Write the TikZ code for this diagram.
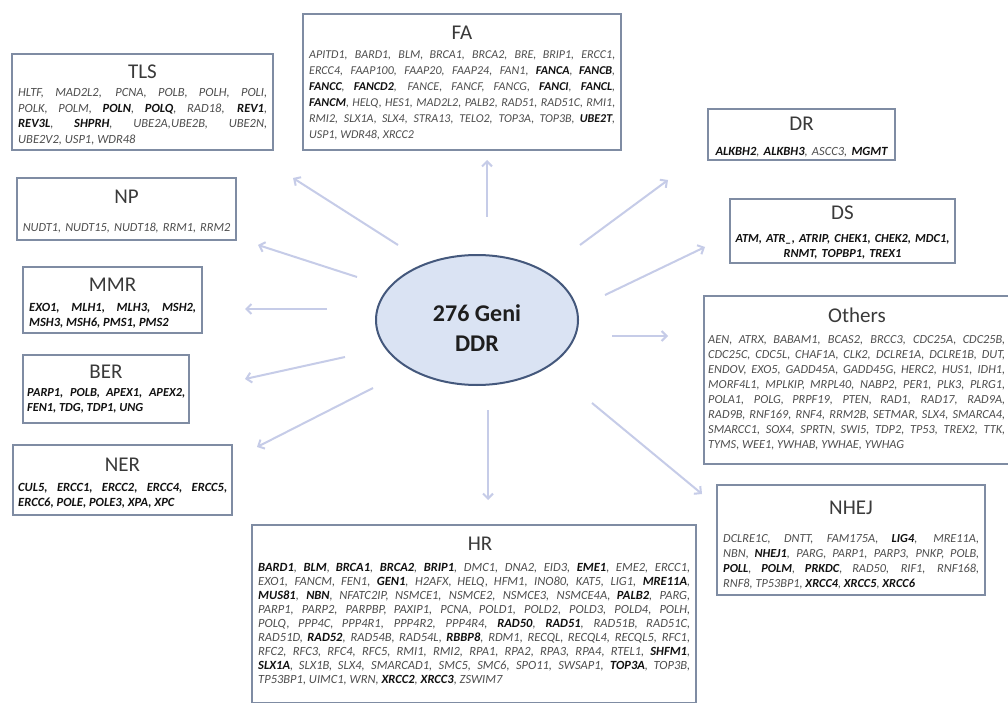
\documentclass[tikz,border=0pt]{standalone}
\usepackage{fontspec}
\setmainfont{Carlito}
\usetikzlibrary{arrows.meta,shapes.geometric}
\definecolor{boxc}{HTML}{7F8CA3}
\definecolor{ttlc}{HTML}{3A3A3A}
\definecolor{genec}{HTML}{4E4E4E}
\definecolor{geneb}{HTML}{111111}
\definecolor{ellf}{HTML}{DAE3F3}
\definecolor{ellc}{HTML}{44587C}
\definecolor{arrc}{HTML}{C6CCE8}
\definecolor{ddrc}{HTML}{1E1E1E}
\newcommand\gbold[1]{{\bfseries\color{geneb}#1}}
\newcommand\genef[2]{\fontsize{#1}{#2}\selectfont\itshape\hyphenpenalty10000 \exhyphenpenalty10000 \tolerance10000 \hbadness10000 }
\begin{document}
\begin{tikzpicture}[x=1pt,y=-1pt,
  box/.style={draw=boxc, line width=1.8pt, fill=white, inner sep=0pt, outer sep=0pt, anchor=north west},
  ttl/.style={inner sep=0pt, font=\fontsize{21}{21}\selectfont, text=ttlc},
  genes/.style={inner sep=0pt, text width=#1pt, align=justify, text=genec, anchor=base west},
  cgenes/.style={inner sep=0pt, text width=#1pt, align=center, text=genec, anchor=base},
  arr/.style={draw=arrc, line width=2pt, -{Straight Barb[length=5pt,width=10pt]}}]
\fill[white] (0,0) rectangle (1008,703);
\useasboundingbox (0,0) rectangle (1008,703);

% ---------- arrows ----------
\coordinate (aTLSs) at (398,245); \coordinate (aTLSe) at (293,178);
\coordinate (aFAs) at (487,217);  \coordinate (aFAe) at (487,160);
\coordinate (aDRs) at (580,245);  \coordinate (aDRe) at (668,180);
\coordinate (aDSs) at (605,295);  \coordinate (aDSe) at (705,247);
\coordinate (aOTs) at (612,336);  \coordinate (aOTe) at (668,336);
\coordinate (aNHs) at (592,403);  \coordinate (aNHe) at (702,494);
\coordinate (aHRs) at (488,410);  \coordinate (aHRe) at (488,500);
\coordinate (aNERs) at (373,388); \coordinate (aNERe) at (257,447);
\coordinate (aBERs) at (345,357); \coordinate (aBERe) at (245,379);
\coordinate (aMMRs) at (327,309); \coordinate (aMMRe) at (245,309);
\coordinate (aNPs) at (357,277);  \coordinate (aNPe) at (258,245);
\foreach \a in {TLS,FA,DR,DS,OT,NH,HR,NER,BER,MMR,NP}
  \draw[arr] (a\a s) -- (a\a e);

% ---------- centre ----------
\node[ellipse, draw=ellc, fill=ellf, line width=2pt, minimum width=202pt, minimum height=130pt, inner sep=0pt] (ddr) at (477,320) {};
\node[inner sep=0pt, align=center, font=\fontsize{24}{30}\selectfont\bfseries, text=ddrc] (ddrT) at (477,328) {276 Geni\\DDR};

% ---------- TLS ----------
\node[box, minimum width=261pt, minimum height=96pt] (tls) at (12,54) {};
\node[ttl] (tlsT) at (142.5,72) {TLS};
\node[genes=249, font=\genef{12.5}{15.5}] (tlsG) at (18,97) {HLTF, MAD2L2, PCNA, POLB, POLH, POLI,\linebreak
POLK, POLM, \gbold{POLN}, \gbold{POLQ}, RAD18, \gbold{REV1},\linebreak
\gbold{REV3L}, \gbold{SHPRH}, UBE2A,UBE2B, UBE2N,\linebreak
UBE2V2, USP1, WDR48};

% ---------- FA ----------
\node[box, minimum width=318pt, minimum height=136pt] (fa) at (303,14) {};
\node[ttl] (faT) at (462,33) {FA};
\node[genes=306, font=\genef{12}{16}] (faG) at (309,59) {APITD1, BARD1, BLM, BRCA1, BRCA2, BRE, BRIP1, ERCC1,\linebreak
ERCC4, FAAP100, FAAP20, FAAP24, FAN1, \gbold{FANCA}, \gbold{FANCB},\linebreak
\gbold{FANCC}, \gbold{FANCD2}, FANCE, FANCF, FANCG, \gbold{FANCI}, \gbold{FANCL},\linebreak
\gbold{FANCM}, HELQ, HES1, MAD2L2, PALB2, RAD51, RAD51C, RMI1,\linebreak
RMI2, SLX1A, SLX4, STRA13, TELO2, TOP3A, TOP3B, \gbold{UBE2T},\linebreak
USP1, WDR48, XRCC2};

% ---------- DR ----------
\node[box, minimum width=187pt, minimum height=51pt] (dr) at (708,109) {};
\node[ttl] (drT) at (801.5,124) {DR};
\node[cgenes=187, font=\genef{12.5}{15}] (drG) at (801.5,155.5) {\gbold{ALKBH2}, \gbold{ALKBH3}, ASCC3, \gbold{MGMT}};

% ---------- DS ----------
\node[box, minimum width=225pt, minimum height=64pt] (ds) at (730,199) {};
\node[ttl] (dsT) at (842.5,213) {DS};
\node[cgenes=225, font=\genef{12.3}{15}] (dsG) at (842.5,242) {\gbold{ATM, ATR\_, ATRIP, CHEK1, CHEK2, MDC1,}\\\gbold{RNMT, TOPBP1, TREX1}};

% ---------- Others ----------
\node[box, minimum width=310pt, minimum height=168pt] (oth) at (704,296) {};
\node[ttl] (othT) at (857,315) {Others};
\node[genes=297, font=\genef{12.3}{15}] (othG) at (708,343) {AEN, ATRX, BABAM1, BCAS2, BRCC3, CDC25A, CDC25B,\linebreak
CDC25C, CDC5L, CHAF1A, CLK2, DCLRE1A, DCLRE1B, DUT,\linebreak
ENDOV, EXO5, GADD45A, GADD45G, HERC2, HUS1, IDH1,\linebreak
MORF4L1, MPLKIP, MRPL40, NABP2, PER1, PLK3, PLRG1,\linebreak
POLA1, POLG, PRPF19, PTEN, RAD1, RAD17, RAD9A,\linebreak
RAD9B, RNF169, RNF4, RRM2B, SETMAR, SLX4, SMARCA4,\linebreak
SMARCC1, SOX4, SPRTN, SWI5, TDP2, TP53, TREX2, TTK,\linebreak
TYMS, WEE1, YWHAB, YWHAE, YWHAG};

% ---------- NHEJ ----------
\node[box, minimum width=268pt, minimum height=110pt] (nhej) at (717,485) {};
\node[ttl] (nhejT) at (851,508) {NHEJ};
\node[genes=256, font=\genef{12.3}{15.3}] (nhejG) at (723,542) {DCLRE1C, DNTT, FAM175A, \gbold{LIG4}, MRE11A,\linebreak
NBN, \gbold{NHEJ1}, PARG, PARP1, PARP3, PNKP, POLB,\linebreak
\gbold{POLL}, \gbold{POLM}, \gbold{PRKDC}, RAD50, RIF1, RNF168,\linebreak
RNF8, TP53BP1, \gbold{XRCC4}, \gbold{XRCC5}, \gbold{XRCC6}};

% ---------- NP ----------
\node[box, minimum width=219pt, minimum height=62pt] (np) at (17,178) {};
\node[ttl] (npT) at (126.5,197) {NP};
\node[cgenes=219, font=\genef{12.3}{15}] (npG) at (126.5,232) {NUDT1, NUDT15, NUDT18, RRM1, RRM2};

% ---------- MMR ----------
\node[box, minimum width=179pt, minimum height=66pt] (mmr) at (23,267) {};
\node[ttl] (mmrT) at (112.5,285) {MMR};
\node[genes=167, font=\genef{12.5}{15}] (mmrG) at (29,311) {\gbold{EXO1, MLH1, MLH3, MSH2,}\linebreak
\gbold{MSH3, MSH6, PMS1, PMS2}};

% ---------- BER ----------
\node[box, minimum width=166pt, minimum height=68pt] (ber) at (23,355) {};
\node[ttl] (berT) at (106,372) {BER};
\node[genes=158, font=\genef{12.3}{15.5}] (berG) at (27,396) {\gbold{PARP1, POLB, APEX1, APEX2,}\linebreak
\gbold{FEN1, TDG, TDP1, UNG}};

% ---------- NER ----------
\node[box, minimum width=219pt, minimum height=70pt] (ner) at (13,445) {};
\node[ttl] (nerT) at (122.5,465) {NER};
\node[genes=209, font=\genef{12.5}{15}] (nerG) at (18,491) {\gbold{CUL5, ERCC1, ERCC2, ERCC4, ERCC5,}\linebreak
\gbold{ERCC6, POLE, POLE3, XPA, XPC}};

% ---------- HR ----------
\node[box, minimum width=444pt, minimum height=178pt] (hr) at (252,525) {};
\node[ttl] (hrT) at (480,544) {HR};
\node[genes=432, font=\genef{12.5}{14}] (hrG) at (258,571) {\gbold{BARD1}, \gbold{BLM}, \gbold{BRCA1}, \gbold{BRCA2}, \gbold{BRIP1}, DMC1, DNA2, EID3, \gbold{EME1}, EME2, ERCC1,\linebreak
EXO1, FANCM, FEN1, \gbold{GEN1}, H2AFX, HELQ, HFM1, INO80, KAT5, LIG1, \gbold{MRE11A},\linebreak
\gbold{MUS81}, \gbold{NBN}, NFATC2IP, NSMCE1, NSMCE2, NSMCE3, NSMCE4A, \gbold{PALB2}, PARG,\linebreak
PARP1, PARP2, PARPBP, PAXIP1, PCNA, POLD1, POLD2, POLD3, POLD4, POLH,\linebreak
POLQ, PPP4C, PPP4R1, PPP4R2, PPP4R4, \gbold{RAD50}, \gbold{RAD51}, RAD51B, RAD51C,\linebreak
RAD51D, \gbold{RAD52}, RAD54B, RAD54L, \gbold{RBBP8}, RDM1, RECQL, RECQL4, RECQL5, RFC1,\linebreak
RFC2, RFC3, RFC4, RFC5, RMI1, RMI2, RPA1, RPA2, RPA3, RPA4, RTEL1, \gbold{SHFM1},\linebreak
\gbold{SLX1A}, SLX1B, SLX4, SMARCAD1, SMC5, SMC6, SPO11, SWSAP1, \gbold{TOP3A}, TOP3B,\linebreak
TP53BP1, UIMC1, WRN, \gbold{XRCC2}, \gbold{XRCC3}, ZSWIM7};
\end{tikzpicture}
\end{document}
